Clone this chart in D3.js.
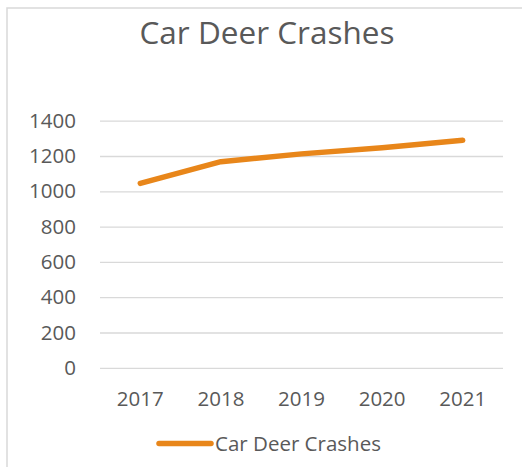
<!DOCTYPE html>
<html>
<head>
<meta charset="utf-8">
<script src="https://cdn.jsdelivr.net/npm/d3@7"></script>
<style>
  body { margin: 0; background: #fff; }
  svg { display: block; font-family: "Open Sans", sans-serif; }
</style>
</head>
<body>
<div id="chart"></div>
<script>
const years = ["2017", "2018", "2019", "2020", "2021"];
const crashes = [1045, 1168, 1212, 1247, 1289];
const yTicks = [0, 200, 400, 600, 800, 1000, 1200, 1400];
const seriesName = "Car Deer Crashes";
const chartTitle = "Car Deer Crashes";

const W = 522, H = 467;
const MARGIN = { LEFT: 100, RIGHT: 19, TOP: 120.7, BOTTOM: 99.2 };
const TEXT = "#595959";
const ORANGE = "#E8861A";

const svg = d3.select("#chart").append("svg")
    .attr("width", W)
    .attr("height", H);

// chart frame (runs past the right/bottom edge like the crop)
svg.append("rect")
    .attr("x", 7).attr("y", 8)
    .attr("width", W + 20).attr("height", H + 20)
    .attr("fill", "#fff")
    .attr("stroke", "#d9d9d9")
    .attr("stroke-width", 1.5);

const x = d3.scaleBand()
    .domain(years)
    .range([MARGIN.LEFT, W - MARGIN.RIGHT]);

const y = d3.scaleLinear()
    .domain([0, 1400])
    .range([H - MARGIN.BOTTOM, MARGIN.TOP]);

// gridlines + y labels
const yAxis = svg.append("g")
    .attr("transform", `translate(${MARGIN.LEFT},0)`)
    .call(d3.axisLeft(y)
        .tickValues(yTicks)
        .tickFormat(d3.format("d"))
        .tickSize(-(W - MARGIN.LEFT - MARGIN.RIGHT))
        .tickPadding(24));
yAxis.select(".domain").remove();
yAxis.selectAll(".tick line").attr("stroke", "#d9d9d9").attr("stroke-width", 1.3);
yAxis.selectAll(".tick text")
    .attr("fill", TEXT)
    .style("font-size", "20.5px")
    .style("font-family", "Open Sans");

// x labels
const xAxis = svg.append("g")
    .attr("transform", `translate(0,${H - MARGIN.BOTTOM})`)
    .call(d3.axisBottom(x).tickSize(0).tickPadding(24));
xAxis.select(".domain").remove();
xAxis.selectAll(".tick text")
    .attr("fill", TEXT)
    .style("font-size", "20.5px")
    .style("font-family", "Open Sans");

// line
const line = d3.line()
    .x((d, i) => x(years[i]) + x.bandwidth() / 2)
    .y(d => y(d));

svg.append("path")
    .datum(crashes)
    .attr("d", line)
    .attr("fill", "none")
    .attr("stroke", ORANGE)
    .attr("stroke-width", 5.5)
    .attr("stroke-linecap", "round")
    .attr("stroke-linejoin", "round");

// title
svg.append("text")
    .attr("x", 267)
    .attr("y", 44)
    .attr("text-anchor", "middle")
    .attr("fill", TEXT)
    .style("font-size", "31.5px")
    .text(chartTitle);

// legend
const legend = svg.append("g");
legend.append("line")
    .attr("x1", 159).attr("x2", 211)
    .attr("y1", 443.5).attr("y2", 443.5)
    .attr("stroke", ORANGE)
    .attr("stroke-width", 5.5)
    .attr("stroke-linecap", "round");
legend.append("text")
    .attr("x", 215)
    .attr("y", 450.5)
    .attr("fill", TEXT)
    .style("font-size", "20.5px")
    .text(seriesName);
</script>
</body>
</html>
